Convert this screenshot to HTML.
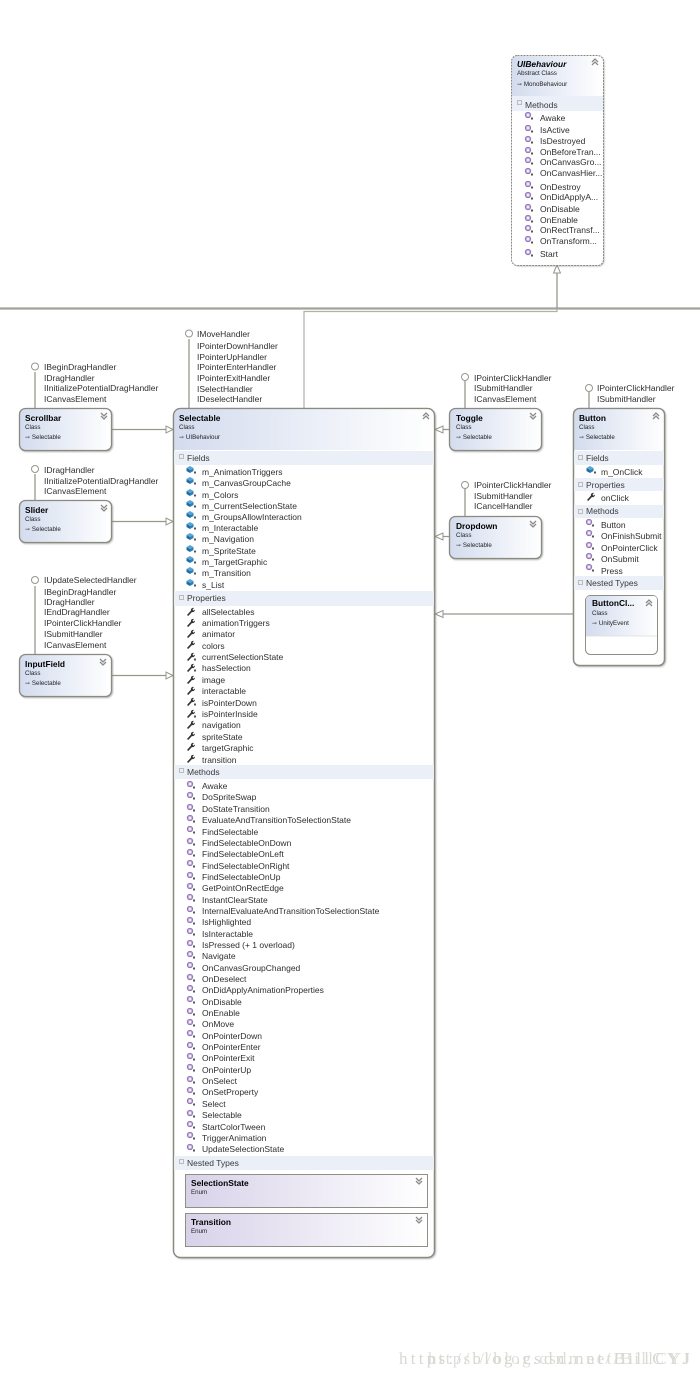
<!DOCTYPE html>
<html><head><meta charset="utf-8"><style>
html,body{margin:0;padding:0;background:#fff;width:700px;height:1378px;overflow:hidden}
svg{display:block;position:absolute;left:0;top:0;filter:blur(.3px)}
text{font-family:"Liberation Sans",sans-serif;font-size:8.5px;fill:#2e2e2e}
.t{font-weight:bold;font-size:8.4px;fill:#000}
.s{font-size:6.2px;fill:#222}
.b{font-size:8.5px;fill:#3a3a3a}
.w{font-family:"Liberation Serif",serif;font-size:17px;fill:#d8d8d2}
.box{fill:#fff;stroke:#8a8a81;stroke-width:1.3}
.ln{stroke:#97978e;stroke-width:1.3;fill:none}
.ar{fill:#fff;stroke:#97978e;stroke-width:1}
.lol{fill:#fff;stroke:#97978e;stroke-width:1}
.band{fill:#eaeff8}
.chev{fill:none;stroke:#8a8a8a;stroke-width:1.3}
</style></head><body>
<svg width="700" height="1378" viewBox="0 0 700 1378" xmlns="http://www.w3.org/2000/svg">
<defs>
<linearGradient id="g" x1="0" x2="1" y1="0" y2="0"><stop offset="0" stop-color="#d3dcee"/><stop offset="1" stop-color="#fff"/></linearGradient>
<linearGradient id="e" x1="0" x2="1" y1="0" y2="0"><stop offset="0" stop-color="#d8d2e9"/><stop offset="1" stop-color="#fff"/></linearGradient>
<filter id="sh" x="-10%" y="-10%" width="120%" height="120%"><feDropShadow dx="1" dy="1" stdDeviation="0.7" flood-color="#777" flood-opacity=".5"/></filter>
<g id="m"><circle cx="0" cy="-1" r="2.7" fill="#c7b4dc" stroke="#8d6fb2" stroke-width=".9"/><circle cx="0" cy="-1" r="1" fill="#fff"/><rect x="3" y="1.5" width="2" height="2" fill="#555"/></g>
<g id="f"><path d="M-3.5-2 0-4 3.5-2 0 0Z" fill="#5aa5d8"/><path d="M-3.5-2 0 0V3L-3.5 1Z" fill="#1f6a9e"/><path d="M3.5-2 0 0V3L3.5 1Z" fill="#2c80b8"/><rect x="4" y="1.5" width="2" height="2" fill="#555"/></g>
<g id="p"><path d="M-3 3 1-1.5C.5-3 2-4.500 4-4L2.500-2.500 3.500-1.300 5-2.500C5-.5 3.500 .5 2 0L-1.800 4Z" fill="#333"/></g>
<g id="q"><use href="#p"/><rect x="4" y="1.500" width="2" height="2" fill="#555"/></g>
<path id="up" class="chev" d="M-3 0 0-3 3 0M-3 3 0 0 3 3"/>
<path id="dn" class="chev" d="M-3-3 0 0 3-3M-3 0 0 3 3 0"/>
</defs>

<!-- connectors -->
<path d="M0 308.500H700" stroke="#a3a39a" stroke-width="2.200" fill="none"/>
<path class="ln" d="M557 272V308"/>
<path d="M304 408V311.500H557V309" stroke="#b0b0a8" stroke-width="1.200" fill="none"/>
<path class="ar" d="M557 265 553.500 273H560.500Z"/>

<path class="ln" d="M112 429.500H166M112 521.500H166M112 675.500H166M449 429.500H443M449 536.500H443M573 614H443"/>
<path class="ar" d="M173 429.500 166 426V433ZM173 521.500 166 518V525ZM173 675.500 166 672V679ZM435 429.500 443 426V433ZM435 536.500 443 533V540ZM435 614 443 610.500V617.500Z"/>

<path class="ln" d="M35 372V408M35 474V500M35 586V655M189 339V408M465 381V408M465 489V516M589 392V408"/>
<circle class="lol" cx="35" cy="366.500" r="3.500"/><circle class="lol" cx="35" cy="469" r="3.500"/><circle class="lol" cx="35" cy="580" r="3.500"/><circle class="lol" cx="189" cy="333.500" r="3.500"/><circle class="lol" cx="465" cy="377" r="3.500"/><circle class="lol" cx="465" cy="485" r="3.500"/><circle class="lol" cx="589" cy="388" r="3.500"/>

<!-- lollipop labels -->
<g>
<text x="44" y="370">IBeginDragHandler</text><text x="44" y="381">IDragHandler</text><text x="44" y="391">IInitializePotentialDragHandler</text><text x="44" y="402">ICanvasElement</text>
<text x="44" y="473">IDragHandler</text><text x="44" y="484">IInitializePotentialDragHandler</text><text x="44" y="494">ICanvasElement</text>
<text x="44" y="583">IUpdateSelectedHandler</text><text x="44" y="595">IBeginDragHandler</text><text x="44" y="605">IDragHandler</text><text x="44" y="615">IEndDragHandler</text><text x="44" y="626">IPointerClickHandler</text><text x="44" y="637">ISubmitHandler</text><text x="44" y="648">ICanvasElement</text>
<text x="197" y="337">IMoveHandler</text><text x="197" y="349">IPointerDownHandler</text><text x="197" y="360">IPointerUpHandler</text><text x="197" y="370">IPointerEnterHandler</text><text x="197" y="381">IPointerExitHandler</text><text x="197" y="392">ISelectHandler</text><text x="197" y="402">IDeselectHandler</text>
<text x="474" y="381">IPointerClickHandler</text><text x="474" y="391">ISubmitHandler</text><text x="474" y="402">ICanvasElement</text>
<text x="474" y="488">IPointerClickHandler</text><text x="474" y="499">ISubmitHandler</text><text x="474" y="509">ICancelHandler</text>
<text x="597" y="391">IPointerClickHandler</text><text x="597" y="402">ISubmitHandler</text>
</g>

<!-- UIBehaviour -->
<g filter="url(#sh)"><rect x="511.500" y="55.500" width="92" height="210" rx="6" fill="#fff"/></g>
<path d="M512 96V62Q512 56 518 56H598Q603 56 603 62V96Z" fill="url(#g)"/>
<rect x="512" y="96" width="91" height="15" class="band"/>
<rect x="511.500" y="55.500" width="92" height="210" rx="6" fill="none" stroke="#88887f" stroke-width="1" stroke-dasharray="2 1"/>
<text class="t" x="517" y="67" style="font-style:italic">UIBehaviour</text>
<text class="s" x="517" y="75">Abstract Class</text>
<text class="s" x="517" y="86">⇾ MonoBehaviour</text>
<use href="#up" x="595" y="62"/>
<rect x="517.500" y="100.500" width="4" height="4" fill="#eee" stroke="#999" stroke-width=".6"/>
<text class="b" x="525" y="108">Methods</text>
<use href="#m" x="528" y="116"/><text x="540" y="121">Awake</text>
<use href="#m" x="528" y="129"/><text x="540" y="133">IsActive</text>
<use href="#m" x="528" y="140"/><text x="540" y="144">IsDestroyed</text>
<use href="#m" x="528" y="151"/><text x="540" y="155">OnBeforeTran...</text>
<use href="#m" x="528" y="161"/><text x="540" y="165">OnCanvasGro...</text>
<use href="#m" x="528" y="172"/><text x="540" y="176">OnCanvasHier...</text>
<use href="#m" x="528" y="185"/><text x="540" y="190">OnDestroy</text>
<use href="#m" x="528" y="196"/><text x="540" y="200">OnDidApplyA...</text>
<use href="#m" x="528" y="208"/><text x="540" y="212">OnDisable</text>
<use href="#m" x="528" y="219"/><text x="540" y="223">OnEnable</text>
<use href="#m" x="528" y="229"/><text x="540" y="233">OnRectTransf...</text>
<use href="#m" x="528" y="240"/><text x="540" y="244">OnTransform...</text>
<use href="#m" x="528" y="253"/><text x="540" y="257">Start</text>

<!-- small boxes -->
<g><rect class="box" filter="url(#sh)" x="19.500" y="408.500" width="92" height="42" rx="6" style="fill:url(#g)"/>
<text class="t" x="25" y="421">Scrollbar</text><text class="s" x="25" y="429">Class</text><text class="s" x="25" y="439">⇾ Selectable</text><use href="#dn" x="104" y="416"/></g>
<g><rect class="box" filter="url(#sh)" x="19.500" y="500.500" width="92" height="42" rx="6" style="fill:url(#g)"/>
<text class="t" x="25" y="513">Slider</text><text class="s" x="25" y="521">Class</text><text class="s" x="25" y="531">⇾ Selectable</text><use href="#dn" x="104" y="508"/></g>
<g><rect class="box" filter="url(#sh)" x="19.500" y="654.500" width="92" height="42" rx="6" style="fill:url(#g)"/>
<text class="t" x="25" y="667">InputField</text><text class="s" x="25" y="675">Class</text><text class="s" x="25" y="685">⇾ Selectable</text><use href="#dn" x="103" y="662"/></g>
<g><rect class="box" filter="url(#sh)" x="449.500" y="408.500" width="92" height="42" rx="6" style="fill:url(#g)"/>
<text class="t" x="456" y="421">Toggle</text><text class="s" x="456" y="429">Class</text><text class="s" x="456" y="439">⇾ Selectable</text><use href="#dn" x="533" y="416"/></g>
<g><rect class="box" filter="url(#sh)" x="449.500" y="516.500" width="92" height="42" rx="6" style="fill:url(#g)"/>
<text class="t" x="456" y="529">Dropdown</text><text class="s" x="456" y="537">Class</text><text class="s" x="456" y="547">⇾ Selectable</text><use href="#dn" x="533" y="524"/></g>

<!-- Button -->
<rect class="box" filter="url(#sh)" x="573.500" y="408.500" width="91" height="257" rx="6"/>
<path d="M574 450V415Q574 409 580 409H659Q664 409 664 415V450Z" fill="url(#g)"/>
<rect class="box" x="573.500" y="408.500" width="91" height="257" rx="6" style="fill:none"/>
<text class="t" x="579" y="421">Button</text><text class="s" x="579" y="429">Class</text><text class="s" x="579" y="439">⇾ Selectable</text><use href="#up" x="656" y="416"/>
<rect x="574" y="451" width="90" height="14" class="band"/><rect x="574" y="478" width="90" height="13" class="band"/><rect x="574" y="505" width="90" height="13" class="band"/><rect x="574" y="576" width="90" height="14" class="band"/>
<g fill="#eee" stroke="#999" stroke-width=".6"><rect x="578.500" y="455.500" width="4" height="4"/><rect x="578.500" y="482.500" width="4" height="4"/><rect x="578.500" y="509.500" width="4" height="4"/><rect x="578.500" y="580.500" width="4" height="4"/></g>
<text class="b" x="586" y="461">Fields</text><text class="b" x="586" y="488">Properties</text><text class="b" x="586" y="514">Methods</text><text class="b" x="586" y="586">Nested Types</text>
<use href="#f" x="590" y="470"/><text x="601" y="475">m_OnClick</text>
<use href="#p" x="590" y="497"/><text x="601" y="501">onClick</text>
<use href="#m" x="589" y="523"/><text x="601" y="528">Button</text>
<use href="#m" x="589" y="534"/><text x="601" y="539">OnFinishSubmit</text>
<use href="#m" x="589" y="546"/><text x="601" y="551">OnPointerClick</text>
<use href="#m" x="589" y="557"/><text x="601" y="562">OnSubmit</text>
<use href="#m" x="589" y="568"/><text x="601" y="574">Press</text>
<rect x="585.500" y="595.500" width="72" height="59" rx="5" fill="#fff" stroke="#8f8f86" stroke-width="1"/>
<path d="M586 636V600Q586 596 590 596H653Q657 596 657 600V636Z" fill="url(#g)"/>
<path d="M586 636H657" stroke="#ddd" stroke-width=".8"/>
<text class="t" x="592" y="606">ButtonCl...</text><text class="s" x="592" y="615">Class</text><text class="s" x="592" y="625">⇾ UnityEvent</text><use href="#up" x="649" y="603"/>

<!-- Selectable -->
<rect class="box" filter="url(#sh)" x="173.500" y="408.500" width="261" height="849" rx="7"/>
<path d="M174 450V415Q174 409 180 409H428Q434 409 434 415V450Z" fill="url(#g)"/>
<rect class="box" x="173.500" y="408.500" width="261" height="849" rx="7" style="fill:none"/>
<text class="t" x="179" y="421">Selectable</text><text class="s" x="179" y="429">Class</text><text class="s" x="179" y="439">⇾ UIBehaviour</text><use href="#up" x="426" y="416"/>
<rect x="174" y="451" width="260" height="14" class="band"/><rect x="174" y="591" width="260" height="15" class="band"/><rect x="174" y="765" width="260" height="14" class="band"/><rect x="174" y="1156" width="260" height="14" class="band"/>
<g fill="#eee" stroke="#999" stroke-width=".6"><rect x="179.500" y="454.500" width="4" height="4"/><rect x="179.500" y="595.500" width="4" height="4"/><rect x="179.500" y="768.500" width="4" height="4"/><rect x="179.500" y="1159.500" width="4" height="4"/></g>
<text class="b" x="187" y="461">Fields</text><text class="b" x="187" y="601">Properties</text><text class="b" x="187" y="775">Methods</text><text class="b" x="187" y="1166">Nested Types</text>

<use href="#f" x="190" y="470"/><text x="202" y="475">m_AnimationTriggers</text>
<use href="#f" x="190" y="481"/><text x="202" y="486">m_CanvasGroupCache</text>
<use href="#f" x="190" y="493"/><text x="202" y="498">m_Colors</text>
<use href="#f" x="190" y="504"/><text x="202" y="509">m_CurrentSelectionState</text>
<use href="#f" x="190" y="515"/><text x="202" y="520">m_GroupsAllowInteraction</text>
<use href="#f" x="190" y="526"/><text x="202" y="531">m_Interactable</text>
<use href="#f" x="190" y="537"/><text x="202" y="542">m_Navigation</text>
<use href="#f" x="190" y="549"/><text x="202" y="554">m_SpriteState</text>
<use href="#f" x="190" y="560"/><text x="202" y="565">m_TargetGraphic</text>
<use href="#f" x="190" y="571"/><text x="202" y="576">m_Transition</text>
<use href="#f" x="190" y="583"/><text x="202" y="588">s_List</text>

<use href="#p" x="190" y="612"/><text x="202" y="615">allSelectables</text>
<use href="#p" x="190" y="623"/><text x="202" y="626">animationTriggers</text>
<use href="#p" x="190" y="634"/><text x="202" y="637">animator</text>
<use href="#p" x="190" y="645"/><text x="202" y="649">colors</text>
<use href="#q" x="190" y="657"/><text x="202" y="660">currentSelectionState</text>
<use href="#q" x="190" y="668"/><text x="202" y="671">hasSelection</text>
<use href="#p" x="190" y="680"/><text x="202" y="683">image</text>
<use href="#p" x="190" y="691"/><text x="202" y="694">interactable</text>
<use href="#q" x="190" y="702"/><text x="202" y="706">isPointerDown</text>
<use href="#q" x="190" y="714"/><text x="202" y="717">isPointerInside</text>
<use href="#p" x="190" y="725"/><text x="202" y="728">navigation</text>
<use href="#p" x="190" y="736"/><text x="202" y="740">spriteState</text>
<use href="#p" x="190" y="747"/><text x="202" y="751">targetGraphic</text>
<use href="#p" x="190" y="759"/><text x="202" y="763">transition</text>

<use href="#m" x="190" y="785"/><text x="202" y="789">Awake</text>
<use href="#m" x="190" y="796"/><text x="202" y="800">DoSpriteSwap</text>
<use href="#m" x="190" y="808"/><text x="202" y="812">DoStateTransition</text>
<use href="#m" x="190" y="819"/><text x="202" y="823">EvaluateAndTransitionToSelectionState</text>
<use href="#m" x="190" y="830"/><text x="202" y="835">FindSelectable</text>
<use href="#m" x="190" y="842"/><text x="202" y="846">FindSelectableOnDown</text>
<use href="#m" x="190" y="853"/><text x="202" y="857">FindSelectableOnLeft</text>
<use href="#m" x="190" y="864"/><text x="202" y="869">FindSelectableOnRight</text>
<use href="#m" x="190" y="876"/><text x="202" y="880">FindSelectableOnUp</text>
<use href="#m" x="190" y="887"/><text x="202" y="891">GetPointOnRectEdge</text>
<use href="#m" x="190" y="898"/><text x="202" y="903">InstantClearState</text>
<use href="#m" x="190" y="910"/><text x="202" y="914">InternalEvaluateAndTransitionToSelectionState</text>
<use href="#m" x="190" y="921"/><text x="202" y="925">IsHighlighted</text>
<use href="#m" x="190" y="932"/><text x="202" y="937">IsInteractable</text>
<use href="#m" x="190" y="944"/><text x="202" y="948">IsPressed (+ 1 overload)</text>
<use href="#m" x="190" y="955"/><text x="202" y="959">Navigate</text>
<use href="#m" x="190" y="966"/><text x="202" y="971">OnCanvasGroupChanged</text>
<use href="#m" x="190" y="978"/><text x="202" y="982">OnDeselect</text>
<use href="#m" x="190" y="989"/><text x="202" y="993">OnDidApplyAnimationProperties</text>
<use href="#m" x="190" y="1000"/><text x="202" y="1005">OnDisable</text>
<use href="#m" x="190" y="1012"/><text x="202" y="1016">OnEnable</text>
<use href="#m" x="190" y="1023"/><text x="202" y="1027">OnMove</text>
<use href="#m" x="190" y="1034"/><text x="202" y="1039">OnPointerDown</text>
<use href="#m" x="190" y="1046"/><text x="202" y="1050">OnPointerEnter</text>
<use href="#m" x="190" y="1057"/><text x="202" y="1061">OnPointerExit</text>
<use href="#m" x="190" y="1068"/><text x="202" y="1073">OnPointerUp</text>
<use href="#m" x="190" y="1080"/><text x="202" y="1084">OnSelect</text>
<use href="#m" x="190" y="1091"/><text x="202" y="1095">OnSetProperty</text>
<use href="#m" x="190" y="1102"/><text x="202" y="1107">Select</text>
<use href="#m" x="190" y="1114"/><text x="202" y="1118">Selectable</text>
<use href="#m" x="190" y="1125"/><text x="202" y="1130">StartColorTween</text>
<use href="#m" x="190" y="1136"/><text x="202" y="1141">TriggerAnimation</text>
<use href="#m" x="190" y="1148"/><text x="202" y="1152">UpdateSelectionState</text>

<rect x="185.500" y="1174.500" width="242" height="33" fill="url(#e)" stroke="#8f8f86"/>
<text class="t" x="191" y="1186">SelectionState</text><text class="s" x="191" y="1194">Enum</text><use href="#dn" x="419" y="1181"/>
<rect x="185.500" y="1213.500" width="242" height="33" fill="url(#e)" stroke="#8f8f86"/>
<text class="t" x="191" y="1225">Transition</text><text class="s" x="191" y="1233">Enum</text><use href="#dn" x="419" y="1220"/>

<!-- watermark -->
<text class="w" x="399" y="1364" textLength="290" lengthAdjust="spacing">https://blog.csdn.net/BillCYJ</text>
<text class="w" x="428" y="1364" textLength="262" lengthAdjust="spacing" opacity=".85">https://blog.csdn.net/BillCYJ</text>
</svg>
</body></html>
